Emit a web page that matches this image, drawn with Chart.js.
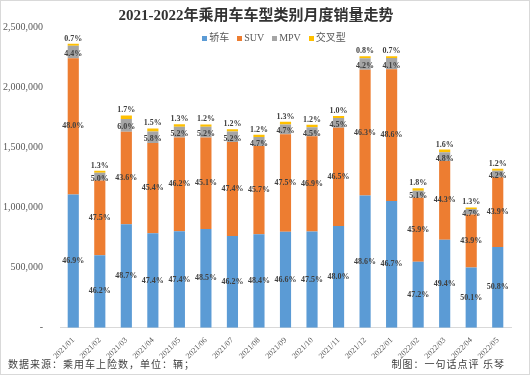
<!DOCTYPE html>
<html lang="zh">
  <head>
    <meta charset="utf-8" />
    <title>2021-2022年乘用车车型类别月度销量走势</title>
    <style>
      * {
        margin: 0;
        padding: 0;
      }
      body {
        background: #fff;
      }
      .chartBox {
        position: relative;
        width: 530px;
        height: 375px;
        box-sizing: border-box;
        border: 1px solid #d9d9d9;
      }
      .note {
        position: absolute;
        bottom: 3px;
        font-family: "Liberation Serif", "Noto Sans CJK SC", serif;
        font-size: 10px;
        color: #404040;
        letter-spacing: 1px;
      }
      #legend {
        position: absolute;
        top: 30px;
        left: 9px;
        width: 528px;
        display: flex;
        justify-content: center;
        font-family: "Liberation Serif", "Noto Sans CJK SC", serif;
        font-size: 10px;
        color: #595959;
        line-height: 14px;
      }
      #legend span {
        display: flex;
        align-items: center;
        margin: 0 4px;
      }
      #legend i {
        display: inline-block;
        width: 5px;
        height: 5px;
        margin-right: 2px;
      }
    </style>
  </head>
  <body>
    <div class="chartBox">
      <canvas id="myChart" width="528" height="373"></canvas>
      <div id="legend"></div>
      <div class="note" style="left: 7px">数据来源：乘用车上险数，单位：辆；</div>
      <div class="note" style="right: 24px">制图：一句话点评 乐琴</div>
    </div>

    <script src="https://cdn.jsdelivr.net/npm/chart.js"></script>

    <script>
      // data block
      const months = [
        "2021/01", "2021/02", "2021/03", "2021/04", "2021/05", "2021/06",
        "2021/07", "2021/08", "2021/09", "2021/10", "2021/11", "2021/12",
        "2022/01", "2022/02", "2022/03", "2022/04", "2022/05",
      ];
      // monthly totals
      const totals = [
        2360000, 1305000, 1765000, 1655000, 1690000, 1690000,
        1650000, 1605000, 1710000, 1685000, 1760000, 2260000,
        2255000, 1160000, 1480000, 1000000, 1320000,
      ];
      // shares (%) printed on the bars
      const sedanPct = [46.9, 46.2, 48.7, 47.4, 47.4, 48.5, 46.2, 48.4, 46.6, 47.5, 48.0, 48.6, 46.7, 47.2, 49.4, 50.1, 50.8];
      const suvPct = [48.0, 47.5, 43.6, 45.4, 46.2, 45.1, 47.4, 45.7, 47.5, 46.9, 46.5, 46.3, 48.6, 45.9, 44.3, 43.9, 43.9];
      const mpvPct = [4.4, 5.0, 6.0, 5.8, 5.2, 5.2, 5.2, 4.7, 4.7, 4.5, 4.5, 4.2, 4.1, 5.1, 4.8, 4.7, 4.2];
      const crossPct = [0.7, 1.3, 1.7, 1.5, 1.3, 1.2, 1.2, 1.2, 1.3, 1.2, 1.0, 0.8, 0.7, 1.8, 1.6, 1.3, 1.2];
      const yTicks = [0, 500000, 1000000, 1500000, 2000000, 2500000];

      const serif = "'Liberation Serif', 'Noto Sans CJK SC', serif";
      const toVolume = (pct) => pct.map((p, i) => Math.round((totals[i] * p) / 100));

      const data = {
        labels: months,
        datasets: [
          { label: "轿车", data: toVolume(sedanPct), pct: sedanPct, backgroundColor: "#5b9bd5" },
          { label: "SUV", data: toVolume(suvPct), pct: suvPct, backgroundColor: "#ed7d31" },
          { label: "MPV", data: toVolume(mpvPct), pct: mpvPct, backgroundColor: "#a5a5a5" },
          { label: "交叉型", data: toVolume(crossPct), pct: crossPct, backgroundColor: "#ffc000" },
        ],
      };

      // percentage labels plugin
      const pctLabels = {
        id: "pctLabels",
        afterDatasetsDraw(chart) {
          const { ctx } = chart;
          ctx.save();
          ctx.font = "bold 8px " + serif;
          ctx.fillStyle = "#404040";
          ctx.textAlign = "center";
          chart.data.datasets.forEach((ds, di) => {
            const meta = chart.getDatasetMeta(di);
            meta.data.forEach((bar, i) => {
              const txt = ds.pct[i].toFixed(1) + "%";
              if (di === 3) {
                ctx.textBaseline = "bottom";
                ctx.fillText(txt, bar.x, bar.y - 1);
              } else {
                ctx.textBaseline = "middle";
                ctx.fillText(txt, bar.x, (bar.y + bar.base) / 2 + (di === 2 ? 2 : 0));
              }
            });
          });
          ctx.restore();
        },
      };

      // config block
      const config = {
        type: "bar",
        data: data,
        options: {
          responsive: false,
          animation: false,
          layout: { padding: { left: 0, right: 18, top: 4, bottom: 13 } },
          datasets: {
            bar: { categoryPercentage: 1, barPercentage: 0.42 },
          },
          plugins: {
            title: {
              display: true,
              text: "2021-2022年乘用车车型类别月度销量走势",
              color: "#333333",
              font: { family: serif, size: 15, weight: "bold" },
              padding: { top: 2, bottom: 2 },
            },
            legend: { display: false },
            tooltip: { enabled: false },
          },
          scales: {
            x: {
              stacked: true,
              grid: { display: false },
              border: { display: true, color: "#d9d9d9" },
              ticks: {
                minRotation: 45,
                maxRotation: 45,
                color: "#595959",
                font: { family: serif, size: 8 },
                padding: 0,
              },
            },
            y: {
              stacked: true,
              min: 0,
              max: 2500000,
              grid: { display: false },
              border: { display: false },
              afterBuildTicks(scale) {
                scale.ticks = yTicks.map((v) => ({ value: v }));
              },
              afterFit(scale) {
                scale.width = 59;
              },
              ticks: {
                color: "#595959",
                font: { family: serif, size: 10 },
                padding: 9,
                callback: (v) => (v === 0 ? "-" : v.toLocaleString("en-US")),
              },
            },
          },
        },
        plugins: [pctLabels],
      };

      // init render block
      const myChart = new Chart(document.getElementById("myChart"), config);

      // legend built from the datasets
      const legend = document.getElementById("legend");
      data.datasets.forEach((ds) => {
        const item = document.createElement("span");
        const box = document.createElement("i");
        box.style.background = ds.backgroundColor;
        item.appendChild(box);
        item.appendChild(document.createTextNode(ds.label));
        legend.appendChild(item);
      });
    </script>
  </body>
</html>
